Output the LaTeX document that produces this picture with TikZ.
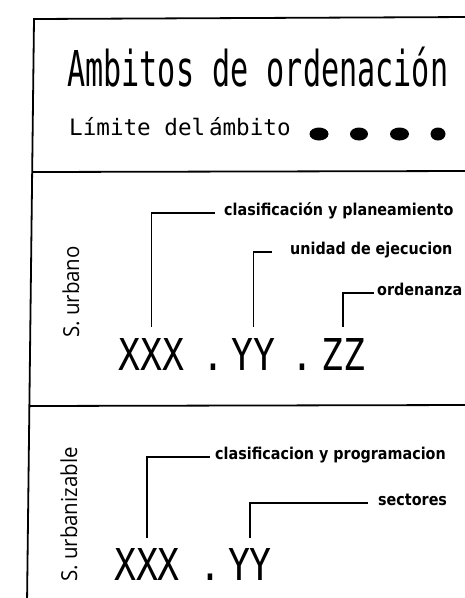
\documentclass[tikz,border=0pt]{standalone}
\usepackage{fontspec}
\newfontfamily\titlefont[FakeStretch=0.61]{DejaVu Sans Mono}
\newfontfamily\legendfont[FakeStretch=1.0]{DejaVu Sans Mono}
\newfontfamily\codefont[FakeStretch=0.83]{DejaVu Sans Mono}
\newfontfamily\zonefont[FakeStretch=0.93]{Open Sans}
\newfontfamily\notefont[FakeStretch=0.88]{DejaVu Sans}

\tikzset{
    frame/.style={line width=1.8pt},
    leader/.style={line width=1.3pt},
    code/.style={font=\codefont\fontsize{43.9}{46}\selectfont, inner sep=0pt, anchor=base},
    note/.style={font=\notefont\bfseries\fontsize{16.3}{18}\selectfont, inner sep=0pt, anchor=mid west},
    zone/.style={font=\zonefont\fontsize{22}{24}\selectfont, inner sep=0pt, rotate=90, anchor=base west}
}

\begin{document}
\begin{tikzpicture}[x=1pt, y=-1pt]
    \useasboundingbox (0,0) rectangle (465,598);
    \clip (0,0) rectangle (465,598);

    % frame
    \draw[frame] (470,17) -- (34,19) -- (27,605);
    \draw[frame] (33,172) -- (470,171);
    \draw[frame] (30,406) -- (470,405);

    % header
    \node[anchor=base west, inner sep=0pt, font=\titlefont\fontsize{49.4}{52}\selectfont] (title) at (67,86) {Ambitos de ordenación};
    \node[anchor=base west, inner sep=0pt, font=\legendfont\fontsize{22.6}{24}\selectfont] (limit) at (69,135) {Límite del\,ámbito};
    \foreach \x/\r in {319/9.5, 359/9, 399.5/9.5, 438/7.5}
        \fill (\x,134) ellipse [x radius=\r pt, y radius=6.5pt];

    % suelo urbano
    \node[zone] (urb) at (79,338) {S. urbano};
    \node[code] (u-xxx) at (151.5,370) {XXX};
    \node[code] (u-dot1) at (213,370) {.};
    \node[code] (u-yy) at (253.5,370) {YY};
    \node[code] (u-dot2) at (302,370) {.};
    \node[code] (u-zz) at (343,370) {ZZ};
    \node[note] (u-clas) at (224,213) {clasificación y planeamiento};
    \node[note] (u-unid) at (290,252) {unidad de ejecucion};
    \node[note] (u-ord) at (377,293) {ordenanza};
    \draw[leader] ([yshift=11pt]u-xxx.north) |- ([xshift=-9pt]u-clas.mid west);
    \draw[leader] ([yshift=11pt]u-yy.north) |- ([xshift=-18pt]u-unid.mid west);
    \draw[leader] ([yshift=11pt]u-zz.north) |- ([xshift=-3pt]u-ord.mid west);

    % suelo urbanizable
    \node[zone] (urbz) at (77,582) {S. urbanizable};
    \node[code] (z-xxx) at (147,580) {XXX};
    \node[code] (z-dot) at (210,580) {.};
    \node[code] (z-yy) at (250,580) {YY};
    \node[note] (z-clas) at (215,457) {clasificacion y programacion};
    \node[note] (z-sect) at (378,503) {sectores};
    \draw[leader] ([yshift=10pt]z-xxx.north) |- ([xshift=-5pt]z-clas.mid west);
    \draw[leader] ([yshift=10pt]z-yy.north) |- ([xshift=-10pt]z-sect.mid west);
\end{tikzpicture}
\end{document}
